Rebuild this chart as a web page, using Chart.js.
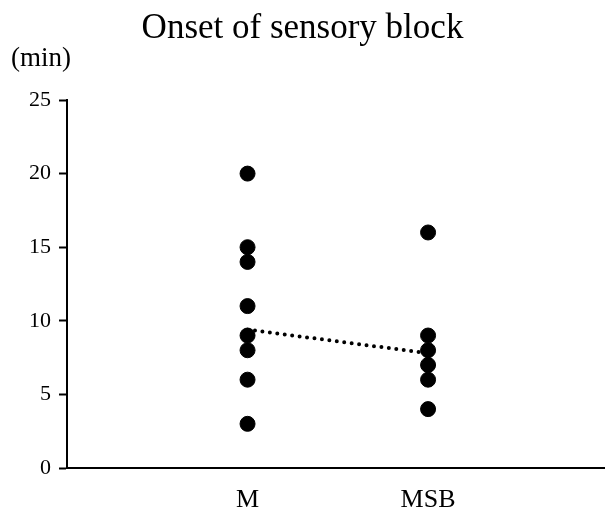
<!DOCTYPE html>
<html>
<head>
<meta charset="utf-8">
<script src="https://cdn.jsdelivr.net/npm/chart.js@4"></script>
<style>
  body { margin: 0; background: #fff; }
  #wrap { width: 605px; height: 509px; }
</style>
</head>
<body>
<div id="wrap"><canvas id="onsetChart"></canvas></div>
<script>
// Onset of sensory block (min), one dot per patient
const groups = ['M', 'MSB'];
const valuesM = [20, 15, 14, 11, 9, 8, 6, 3];
const valuesMSB = [16, 9, 8, 7, 6, 4];
// dotted line between the two group centres
const centreLine = [9.4, 7.8];
const yTicks = [0, 5, 10, 15, 20, 25];
const unitLabel = '(min)';

const serif = 'Liberation Serif, Times New Roman, serif';

const dots = [];
valuesM.forEach(v => dots.push({ x: 1, y: v }));
valuesMSB.forEach(v => dots.push({ x: 2, y: v }));

// unit text above the y axis, not rotated
const unitPlugin = {
  id: 'unitLabel',
  afterDraw(chart) {
    const c = chart.ctx;
    c.save();
    c.fillStyle = '#000';
    c.font = '27px ' + serif;
    c.textAlign = 'left';
    c.textBaseline = 'middle';
    c.fillText(unitLabel, 11, 59);
    c.restore();
  }
};

const ctx = document.getElementById('onsetChart').getContext('2d');
new Chart(ctx, {
  type: 'scatter',
  data: {
    datasets: [{
      label: 'patients',
      data: dots,
      backgroundColor: '#000',
      borderColor: '#000',
      pointRadius: 7.5,
      pointHoverRadius: 7.5,
      order: 2
    }, {
      type: 'line',
      label: 'centre',
      data: centreLine.map((v, i) => ({ x: i + 1, y: v })),
      borderColor: '#000',
      borderWidth: 4,
      borderDash: [0, 7.5],
      borderCapStyle: 'round',
      pointRadius: 0,
      fill: false,
      order: 1
    }]
  },
  plugins: [unitPlugin],
  options: {
    responsive: true,
    maintainAspectRatio: false,
    animation: false,
    layout: { padding: 0, autoPadding: false },
    plugins: {
      legend: { display: false },
      tooltip: { enabled: false },
      title: {
        display: true,
        text: 'Onset of sensory block',
        color: '#000',
        font: { family: serif, size: 35, weight: 'normal' },
        padding: { top: 8, bottom: 50 }
      }
    },
    scales: {
      x: {
        type: 'linear',
        min: 0,
        max: 2.98,
        afterFit: s => { s.height = 41; },
        afterBuildTicks: s => { s.ticks = groups.map((g, i) => ({ value: i + 1 })); },
        ticks: {
          color: '#000',
          font: { family: serif, size: 26 },
          padding: 9,
          callback: v => groups[v - 1] || ''
        },
        grid: { display: false },
        border: { display: true, color: '#000', width: 2 }
      },
      y: {
        min: 0,
        max: 25,
        afterFit: s => { s.width = 67; },
        afterBuildTicks: s => { s.ticks = yTicks.map(v => ({ value: v })); },
        ticks: {
          color: '#000',
          font: { family: serif, size: 22 },
          padding: 8
        },
        grid: {
          drawOnChartArea: false,
          drawTicks: true,
          tickLength: 8,
          tickWidth: 2,
          color: '#000'
        },
        border: { display: true, color: '#000', width: 2 }
      }
    }
  }
});
</script>
</body>
</html>
